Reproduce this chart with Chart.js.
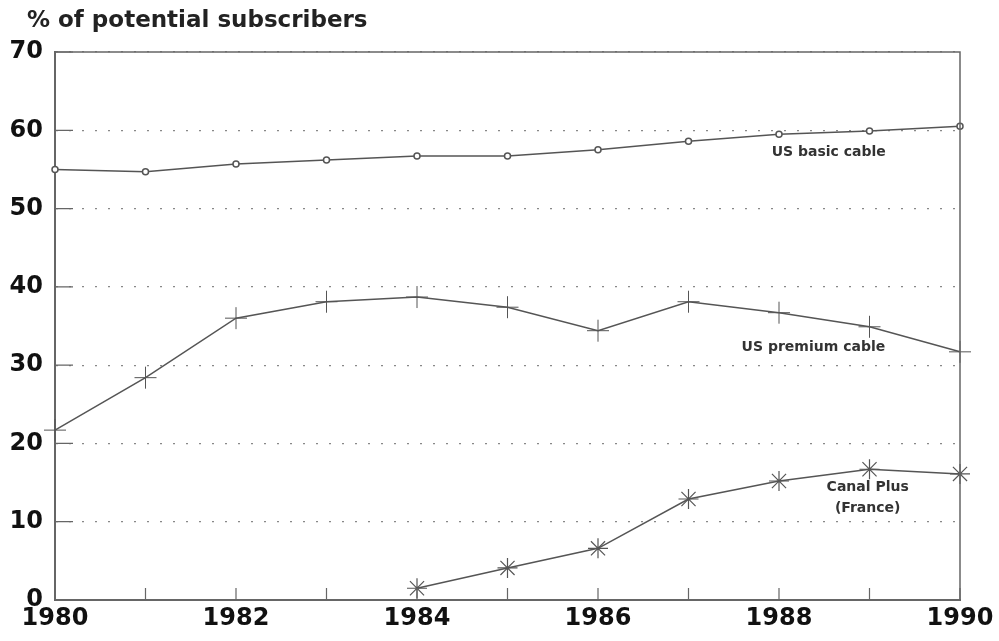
<!DOCTYPE html>
<html>
<head>
<meta charset="utf-8">
<script src="https://cdn.jsdelivr.net/npm/chart.js@4"></script>
<style>
  body { margin: 0; background: #fff; }
  #wrap { width: 999px; height: 641px; }
</style>
</head>
<body>
<div id="wrap"><canvas id="myChart" width="999" height="641"></canvas></div>
<script>
// data
const years = [1980, 1981, 1982, 1983, 1984, 1985, 1986, 1987, 1988, 1989, 1990];
const basicCable = [55.0, 54.7, 55.7, 56.2, 56.7, 56.7, 57.5, 58.6, 59.5, 59.9, 60.5];
const premiumCable = [21.7, 28.4, 36.0, 38.1, 38.7, 37.4, 34.4, 38.1, 36.7, 34.9, 31.7];
const canalYears = [1984, 1985, 1986, 1987, 1988, 1989, 1990];
const canalPlus = [1.5, 4.1, 6.6, 12.9, 15.2, 16.7, 16.1];

// text labels placed in data units
const noteTexts = ['US basic cable', 'US premium cable', 'Canal Plus', '(France)'];
const noteX = [1988.55, 1988.38, 1988.98, 1988.98];
const noteY = [57.2, 32.3, 14.4, 11.7];

const titleText = '% of potential subscribers';
const lineColor = '#555';

function pts(xs, ys) {
    return xs.map((x, i) => ({ x: x, y: ys[i] }));
}

// ticks pointing inwards, frame, title and notes
const extras = {
    id: 'extras',
    afterDatasetsDraw(chart) {
        const ctx = chart.ctx;
        const area = chart.chartArea;
        const xs = chart.scales.x;
        const ys = chart.scales.y;
        ctx.save();
        ctx.strokeStyle = '#666';
        ctx.lineWidth = 1.5;
        ctx.beginPath();
        ctx.moveTo(area.left, area.top);
        ctx.lineTo(area.right, area.top);
        ctx.lineTo(area.right, area.bottom);
        ctx.stroke();

        ctx.lineWidth = 1.2;
        ctx.beginPath();
        ys.ticks.forEach(t => {
            const py = ys.getPixelForValue(t.value);
            ctx.moveTo(area.left, py);
            ctx.lineTo(area.left + 18, py);
        });
        xs.ticks.forEach(t => {
            const px = xs.getPixelForValue(t.value);
            ctx.moveTo(px, area.bottom);
            ctx.lineTo(px, area.bottom - 12);
        });
        ctx.stroke();

        ctx.fillStyle = '#333';
        ctx.font = 'bold 14px "DejaVu Sans", sans-serif';
        ctx.textAlign = 'center';
        ctx.textBaseline = 'middle';
        noteTexts.forEach((s, i) => {
            ctx.fillText(s, xs.getPixelForValue(noteX[i]), ys.getPixelForValue(noteY[i]));
        });

        ctx.fillStyle = '#222';
        ctx.font = 'bold 23px "DejaVu Sans", sans-serif';
        ctx.textAlign = 'left';
        ctx.fillText(titleText, 27, 21);
        ctx.restore();
    }
};

const ctx = document.getElementById('myChart').getContext('2d');
const chart = new Chart(ctx, {
    type: 'line',
    data: {
        datasets: [
            {
                label: 'US basic cable',
                data: pts(years, basicCable),
                borderColor: lineColor,
                borderWidth: 1.5,
                clip: false,
                pointStyle: 'circle',
                pointRadius: 3,
                pointBorderWidth: 1.5,
                pointBorderColor: lineColor,
                pointBackgroundColor: '#fff'
            },
            {
                label: 'US premium cable',
                data: pts(years, premiumCable),
                borderColor: lineColor,
                borderWidth: 1.5,
                clip: false,
                pointStyle: 'cross',
                pointRadius: 11,
                pointBorderWidth: 1,
                pointBorderColor: lineColor
            },
            {
                label: 'Canal Plus (France)',
                data: pts(canalYears, canalPlus),
                borderColor: lineColor,
                borderWidth: 1.5,
                clip: false,
                pointStyle: 'star',
                pointRadius: 10,
                pointBorderWidth: 1.2,
                pointBorderColor: lineColor
            }
        ]
    },
    options: {
        responsive: false,
        animation: false,
        layout: { padding: { top: 52, right: 39, left: 0, bottom: 0 } },
        plugins: {
            legend: { display: false },
            tooltip: { enabled: false }
        },
        scales: {
            x: {
                type: 'linear',
                min: 1980,
                max: 1990,
                afterFit: s => { s.height = 41; },
                ticks: {
                    stepSize: 1,
                    maxRotation: 0,
                    autoSkip: false,
                    padding: 4,
                    color: '#111',
                    font: { family: '"DejaVu Sans", sans-serif', size: 24, weight: 'bold' },
                    callback: v => (v % 2 === 0 ? String(v) : '')
                },
                grid: { display: false, drawTicks: false },
                border: { display: true, color: '#666', width: 2 }
            },
            y: {
                min: 0,
                max: 70,
                afterFit: s => { s.width = 55; },
                ticks: {
                    stepSize: 10,
                    padding: 12,
                    color: '#111',
                    font: { family: '"DejaVu Sans", sans-serif', size: 24, weight: 'bold' }
                },
                grid: { color: '#888', lineWidth: 1.2, drawTicks: false },
                border: { display: true, color: '#666', width: 2, dash: [2, 11] }
            }
        }
    },
    plugins: [extras]
});
</script>
</body>
</html>
